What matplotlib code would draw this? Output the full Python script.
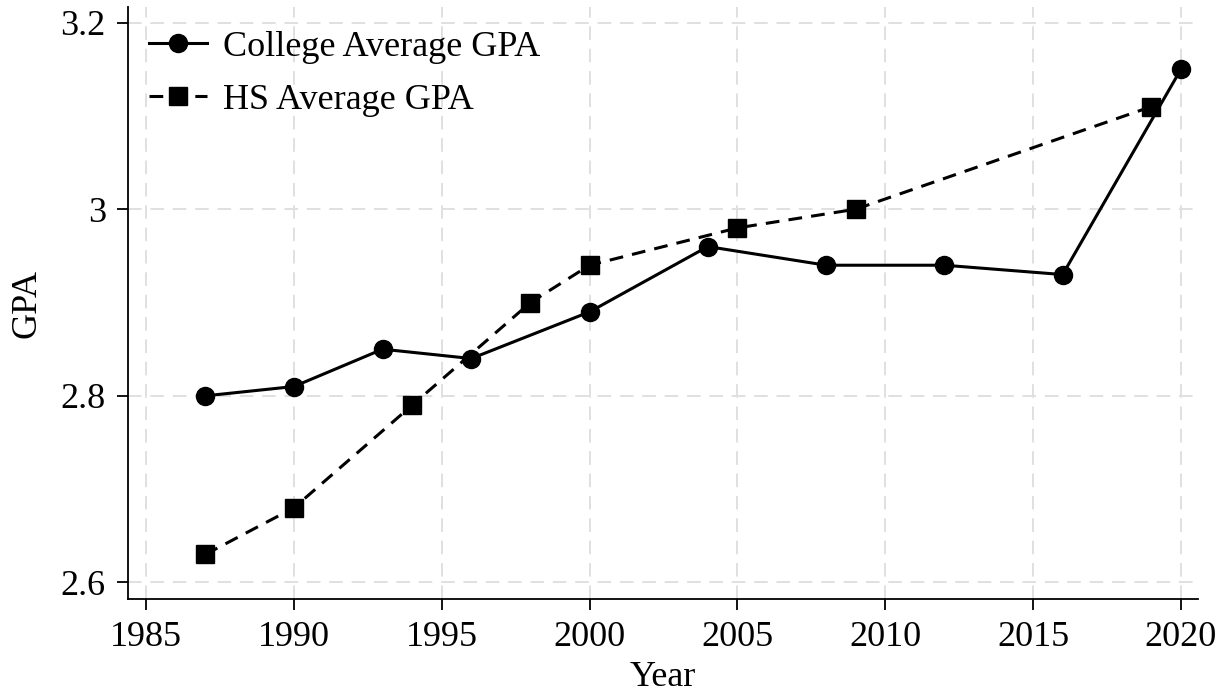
import matplotlib.pyplot as plt

# data
college_years = [1987, 1990, 1993, 1996, 2000, 2004, 2008, 2012, 2016, 2020]
college_gpa = [2.80, 2.81, 2.85, 2.84, 2.89, 2.96, 2.94, 2.94, 2.93, 3.15]
hs_years = [1987, 1990, 1994, 1998, 2000, 2005, 2009, 2019]
hs_gpa = [2.63, 2.68, 2.79, 2.90, 2.94, 2.98, 3.00, 3.11]
x_ticks = [1985, 1990, 1995, 2000, 2005, 2010, 2015, 2020]
y_ticks = [2.6, 2.8, 3.0, 3.2]
y_labels = ["2.6", "2.8", "3", "3.2"]

plt.rcParams['font.family'] = ['Liberation Serif', 'DejaVu Serif']

fig = plt.figure(figsize=(12.31, 6.96), dpi=100)
ax = fig.add_axes([0.104, 0.139, 0.869, 0.851])

ax.plot(college_years, college_gpa, color='black', lw=2.2, marker='o',
        markersize=13, label='College Average GPA', zorder=3)
ax.plot(hs_years, hs_gpa, color='black', lw=2.2, ls=(0, (4.5, 3)), marker='s',
        markersize=13, label='HS Average GPA', zorder=3)

ax.set_xlim(1984.39, 2020.57)
ax.set_ylim(2.582, 3.2168)
ax.set_xticks(x_ticks)
ax.set_yticks(y_ticks)
ax.set_yticklabels(y_labels)

ax.grid(True, color='#e0e0e0', ls=(0, (7, 4.5)), lw=1.4)
ax.set_axisbelow(True)
for s in ['top', 'right']:
    ax.spines[s].set_visible(False)
for s in ['left', 'bottom']:
    ax.spines[s].set_linewidth(1.3)
ax.tick_params(direction='out', length=8, width=1.3, labelsize=26, pad=8)

ax.set_xlabel('Year', fontsize=26, labelpad=5)
ax.set_ylabel('GPA', fontsize=26, labelpad=12)

ax.legend(loc='upper left', frameon=False, fontsize=26, handlelength=1.6,
          handletextpad=0.45, labelspacing=0.55, borderaxespad=0.0,
          bbox_to_anchor=(0.006, 0.985))

fig.savefig('out.png', dpi=100)
